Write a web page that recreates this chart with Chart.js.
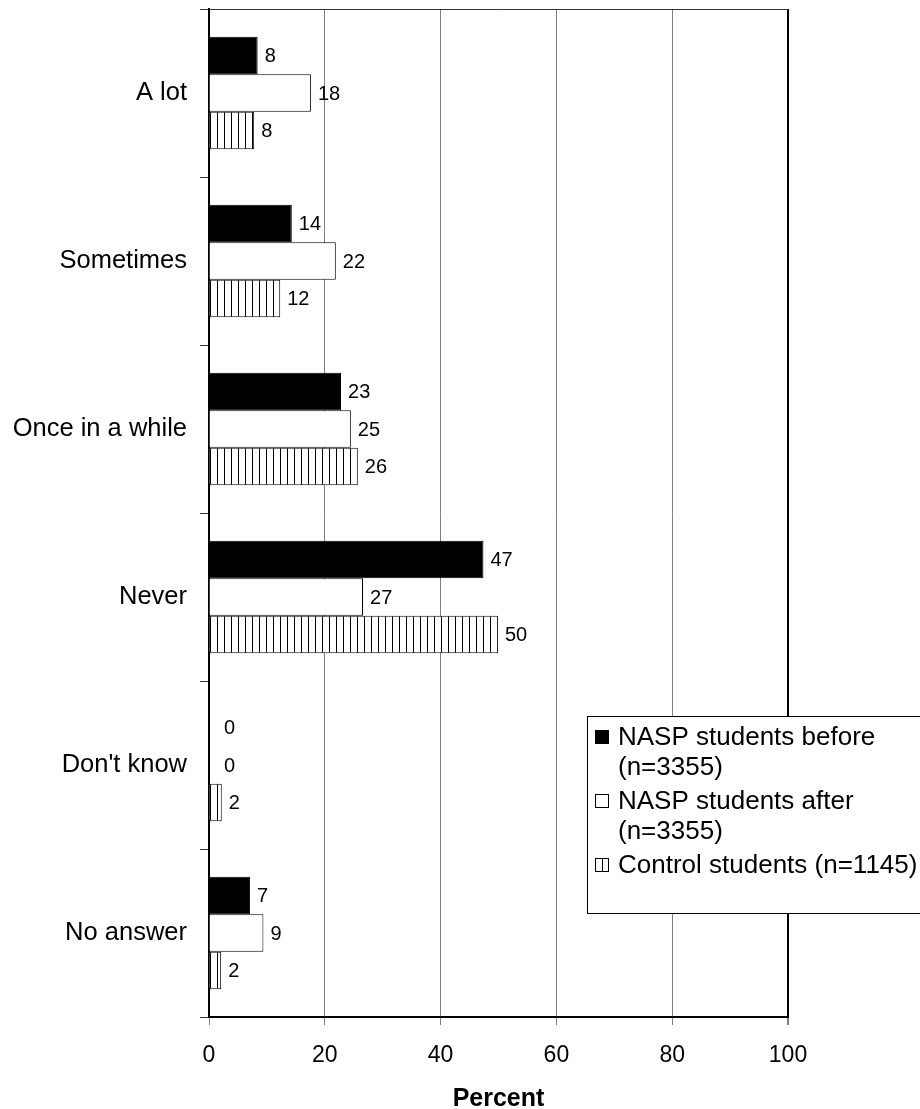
<!DOCTYPE html>
<html><head><meta charset="utf-8">
<script src="https://cdn.jsdelivr.net/npm/chart.js@4"></script>
<style>html,body{margin:0;padding:0;background:#fff;overflow:hidden}</style>
</head><body>
<canvas id="c" width="920" height="1109"></canvas>
<script>
const categories = ["A lot", "Sometimes", "Once in a while", "Never", "Don't know", "No answer"];
const naspBefore = [8.4, 14.3, 22.8, 47.4, 0, 7.1];
const naspAfter = [17.6, 21.9, 24.5, 26.6, 0, 9.4];
const controlStudents = [7.8, 12.3, 25.7, 49.9, 2.2, 2.1];
const seriesNames = [["NASP students before", "(n=3355)"], ["NASP students after", "(n=3355)"], ["Control students (n=1145)"]];
const xTicks = [0, 20, 40, 60, 80, 100];
const axisTitle = "Percent";

const FONT = "'Liberation Sans', Arial, sans-serif";

function makeHatch() {
  const c = document.createElement('canvas');
  c.width = 7; c.height = 7;
  const g = c.getContext('2d');
  g.fillStyle = '#fff'; g.fillRect(0, 0, 7, 7);
  g.fillStyle = '#000'; g.fillRect(0, 0, 1, 7);
  return g.createPattern(c, 'repeat');
}
const ctx0 = document.getElementById('c').getContext('2d');
const hatch = makeHatch();
const fills = ['#000', '#fff', hatch];

const labelPlugin = {
  id: 'valueLabels',
  afterDatasetsDraw(chart) {
    const ctx = chart.ctx;
    ctx.save();
    ctx.font = '20px ' + FONT;
    ctx.fillStyle = '#000';
    ctx.textBaseline = 'middle';
    ctx.textAlign = 'left';
    chart.data.datasets.forEach((ds, i) => {
      const meta = chart.getDatasetMeta(i);
      meta.data.forEach((bar, j) => {
        const v = ds.data[j];
        const x = Math.max(bar.x, chart.chartArea.left + 8) + 7;
        ctx.fillText(String(Math.round(v)), x, bar.y + 1);
      });
    });
    ctx.restore();
  }
};

const framePlugin = {
  id: 'frame',
  afterDraw(chart) {
    const ctx = chart.ctx;
    const a = chart.chartArea;
    ctx.save();
    ctx.strokeStyle = '#333';
    ctx.lineWidth = 1;
    ctx.beginPath();
    ctx.moveTo(a.left, a.top + 0.5);
    ctx.lineTo(a.right, a.top + 0.5);
    ctx.stroke();
    // legend
    const L = { x: 587, y: 716, w: 360, h: 198 };
    ctx.fillStyle = '#fff';
    ctx.fillRect(L.x, L.y, L.w, L.h);
    ctx.strokeStyle = '#000';
    ctx.strokeRect(L.x + 0.5, L.y + 0.5, L.w, L.h - 1);
    ctx.font = '26px ' + FONT;
    ctx.textBaseline = 'middle';
    ctx.textAlign = 'left';
    let y = 737;
    seriesNames.forEach((lines, i) => {
      ctx.fillStyle = fills[i];
      ctx.fillRect(595, y - 7, 14, 14);
      ctx.strokeStyle = '#000';
      ctx.strokeRect(595.5, y - 6.5, 13, 13);
      ctx.fillStyle = '#000';
      lines.forEach((t, k) => {
        ctx.fillText(t, 618, y + 1);
        if (k < lines.length - 1) y += 29.5;
      });
      y += 34.5;
    });
    ctx.restore();
  }
};

new Chart(ctx0, {
  type: 'bar',
  data: {
    labels: categories,
    datasets: [
      { label: seriesNames[0].join(' '), data: naspBefore, backgroundColor: fills[0], borderColor: '#000', borderWidth: 1 },
      { label: seriesNames[1].join(' '), data: naspAfter, backgroundColor: fills[1], borderColor: '#000', borderWidth: 1 },
      { label: seriesNames[2].join(' '), data: controlStudents, backgroundColor: fills[2], borderColor: '#000', borderWidth: 1 }
    ]
  },
  options: {
    indexAxis: 'y',
    responsive: false,
    animation: false,
    devicePixelRatio: 1,
    layout: { padding: { left: 0, right: 132, top: 9, bottom: 0 } },
    datasets: { bar: { categoryPercentage: 0.67, barPercentage: 1.0 } },
    plugins: { legend: { display: false }, tooltip: { enabled: false } },
    scales: {
      x: {
        type: 'linear',
        min: 0, max: 100,
        afterBuildTicks: s => { s.ticks = xTicks.map(v => ({ value: v })); },
        afterFit: s => { s.height = 92; s.paddingLeft = 0; s.paddingRight = 0; },
        grid: {
          color: c => (c.tick && c.tick.value === 100) ? '#000' : '#808080',
          lineWidth: c => (c.tick && c.tick.value === 100) ? 2 : 1,
          tickColor: '#808080',
          tickLength: 8,
          drawTicks: true
        },
        border: { color: '#000', width: 2 },
        ticks: { color: '#000', font: { family: FONT, size: 23 }, padding: 17, maxRotation: 0 },
        title: { display: true, text: axisTitle, color: '#000', font: { family: FONT, size: 25, weight: 'bold', lineHeight: 0.8 }, padding: 0 }
      },
      y: {
        afterFit: s => { s.width = 209; s.paddingTop = 0; s.paddingBottom = 0; },
        grid: { offset: true, drawOnChartArea: false, tickColor: '#333', tickLength: 9 },
        border: { color: '#000', width: 2 },
        ticks: { color: '#000', font: { family: FONT, size: 25.5 }, padding: 13 }
      }
    }
  },
  plugins: [labelPlugin, framePlugin]
});
</script>
</body></html>
